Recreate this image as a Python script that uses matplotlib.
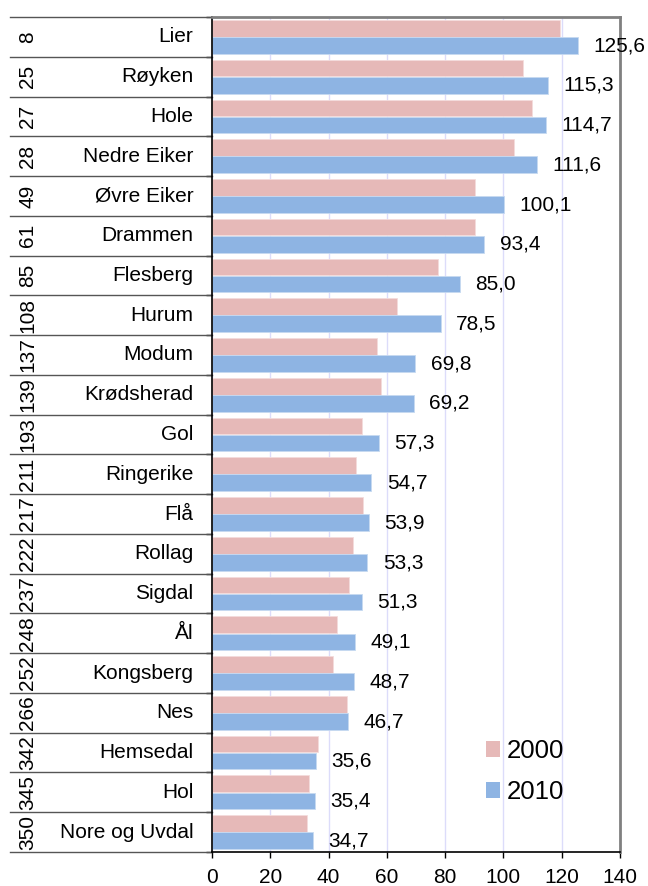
import matplotlib
matplotlib.use("Agg")
import matplotlib.pyplot as plt
from matplotlib.patches import Patch

plt.rcParams['font.family'] = ['Liberation Sans', 'DejaVu Sans']

# data
kommuner = ["Lier", "Røyken", "Hole", "Nedre Eiker", "Øvre Eiker", "Drammen",
            "Flesberg", "Hurum", "Modum", "Krødsherad", "Gol", "Ringerike",
            "Flå", "Rollag", "Sigdal", "Ål", "Kongsberg", "Nes", "Hemsedal",
            "Hol", "Nore og Uvdal"]
rang = [8, 25, 27, 28, 49, 61, 85, 108, 137, 139, 193, 211, 217, 222, 237,
        248, 252, 266, 342, 345, 350]
verdi_2000 = [119.4, 106.6, 109.7, 103.6, 90.1, 90.1, 77.4, 63.4, 56.7, 57.9,
              51.6, 49.5, 51.9, 48.5, 46.9, 42.8, 41.5, 46.3, 36.4, 33.3, 32.7]
verdi_2010 = [125.6, 115.3, 114.7, 111.6, 100.1, 93.4, 85.0, 78.5, 69.8, 69.2,
              57.3, 54.7, 53.9, 53.3, 51.3, 49.1, 48.7, 46.7, 35.6, 35.4, 34.7]
x_ticks = [0, 20, 40, 60, 80, 100, 120, 140]

rosa = "#E6B9B8"
blaa = "#8EB4E3"

fig = plt.figure(figsize=(6.48, 8.86), dpi=100)
ax = fig.add_axes([212/648, 1-852/886, 408/648, 835/886])

n = len(kommuner)
pos = list(range(n))
ax.barh([p - 0.215 for p in pos], verdi_2000, height=0.42, color=rosa,
        edgecolor="#F4DCDC", linewidth=0.6, label="2000", zorder=2)
ax.barh([p + 0.215 for p in pos], verdi_2010, height=0.42, color=blaa,
        edgecolor="#C6DAF1", linewidth=0.6, label="2010", zorder=2)

for p, v in zip(pos, verdi_2010):
    ax.text(v + 5.3, p + 0.22, f"{v:.1f}".replace(".", ","), fontsize=15,
            ha="left", va="center")

ax.set_xlim(0, 140)
ax.set_ylim(n - 0.5, -0.5)
ax.set_xticks(x_ticks)
ax.set_xticklabels([str(t) for t in x_ticks], fontsize=15)
ax.tick_params(axis="x", direction="out", length=4, width=1, pad=7.5)
ax.set_yticks([p - 0.5 for p in range(n + 1)])
ax.set_yticklabels([])
ax.tick_params(axis="y", direction="out", length=4, width=1)
ax.xaxis.grid(True, color="#DCDCFA", linewidth=1, zorder=0)
ax.set_axisbelow(True)

for s in ["top", "right"]:
    ax.spines[s].set_color("#808080")
    ax.spines[s].set_linewidth(2)
for s in ["left", "bottom"]:
    ax.spines[s].set_color("black")
    ax.spines[s].set_linewidth(1.2)

# tabell til venstre
trans = ax.get_yaxis_transform()
x_start = (10 - 212) / 408
for p in range(n + 1):
    ax.plot([x_start, 0], [p - 0.5, p - 0.5], color="#555555", lw=1,
            transform=trans, clip_on=False)
for p in pos:
    ax.text(-0.046, p, kommuner[p], transform=trans, ha="right", va="center",
            fontsize=15)
    ax.text(-0.452, p, str(rang[p]), transform=trans, ha="center",
            va="center", rotation=90, fontsize=15)

handles = [Patch(facecolor=rosa, label="2000"), Patch(facecolor=blaa, label="2010")]
fig.legend(handles=handles, loc="upper left", bbox_to_anchor=(486/648, 1-739/886),
           frameon=False, fontsize=18.5, handlelength=0.55, handleheight=0.55,
           handletextpad=0.25, labelspacing=0.66, borderpad=0, borderaxespad=0)

fig.savefig("out.png", dpi=100)
